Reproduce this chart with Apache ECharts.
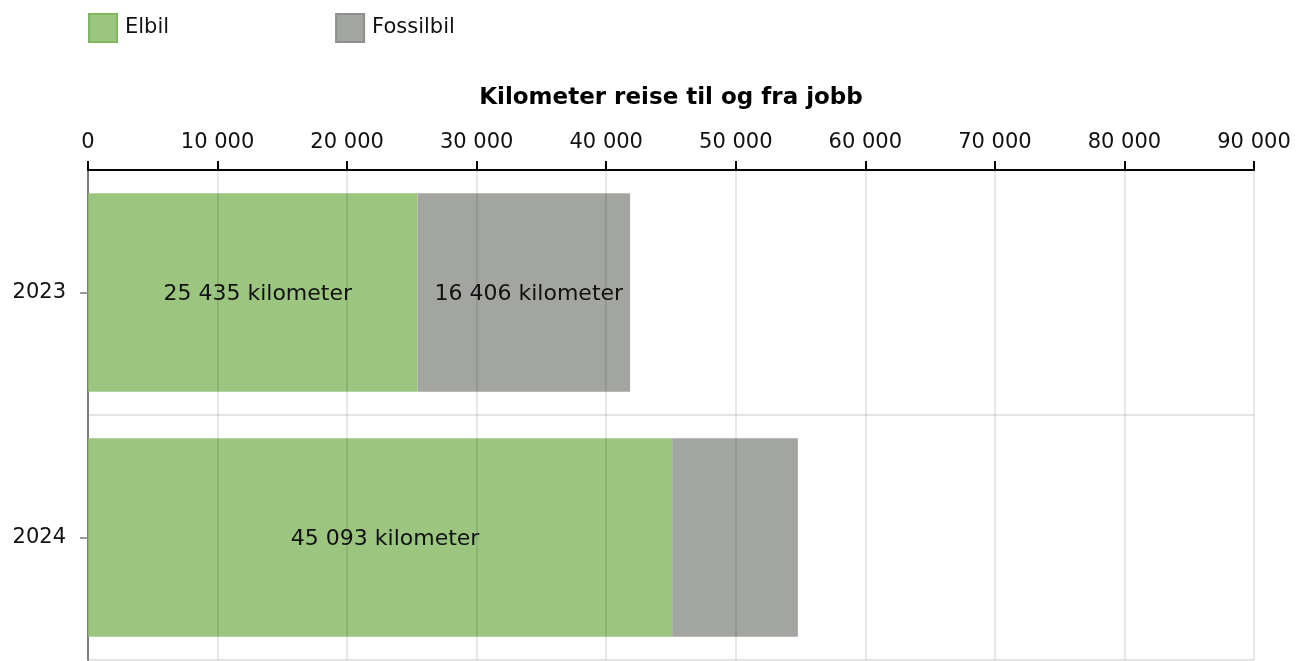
<!DOCTYPE html>
<html>
<head>
<meta charset="utf-8">
<script src="https://cdn.jsdelivr.net/npm/echarts@6/dist/echarts.min.js"></script>
<style>
  html, body { margin: 0; padding: 0; background: #fff; }
  #chart { width: 1309px; height: 661px; }
</style>
</head>
<body>
<div id="chart"></div>
<script>
var years = ['2023', '2024'];
var elbil = [25435, 45093];
var fossilbil = [16406, 9700];
var xTicks = [0, 10000, 20000, 30000, 40000, 50000, 60000, 70000, 80000, 90000];

// mellomrom som tusenskille
function fmt(v) {
  return String(v).replace(/\B(?=(\d{3})+(?!\d))/g, ' ');
}

var font = 'DejaVu Sans, Verdana, sans-serif';
var chart = echarts.init(document.getElementById('chart'));

chart.setOption({
  backgroundColor: '#fff',
  textStyle: { fontFamily: font },
  legend: {
    left: 88,
    top: 13,
    padding: 0,
    itemWidth: 28,
    itemHeight: 28,
    itemGap: 166,
    icon: 'rect',
    textStyle: { fontSize: 21, color: '#111', fontFamily: font, padding: [0, 0, 0, 3] },
    data: [
      { name: 'Elbil', itemStyle: { borderColor: '#7fb85e', borderWidth: 2 } },
      { name: 'Fossilbil', itemStyle: { borderColor: '#8e908b', borderWidth: 2 } }
    ]
  },
  grid: { left: 88, right: 55, top: 170, bottom: 1 },
  xAxis: {
    type: 'value',
    position: 'top',
    min: xTicks[0],
    max: xTicks[xTicks.length - 1],
    interval: 10000,
    z: 3,
    name: 'Kilometer reise til og fra jobb',
    nameLocation: 'middle',
    nameGap: 60,
    nameTextStyle: { fontSize: 23, fontWeight: 'bold', color: '#000', fontFamily: font },
    axisLine: { show: true, lineStyle: { color: '#000', width: 2 } },
    axisTick: { show: true, length: 9, lineStyle: { color: '#000', width: 2 } },
    axisLabel: { fontSize: 21, color: '#111', margin: 17, formatter: fmt, fontFamily: font },
    splitLine: { show: true, lineStyle: { color: 'rgba(0,0,0,0.09)', width: 2 } }
  },
  yAxis: {
    type: 'category',
    inverse: true,
    data: years,
    axisLine: { show: true, lineStyle: { color: '#888', width: 2 } },
    axisTick: { show: true, alignWithLabel: true, length: 8, lineStyle: { color: '#999', width: 2 } },
    axisLabel: { fontSize: 21, color: '#111', margin: 22, fontFamily: font },
    splitLine: { show: true, lineStyle: { color: '#e4e4e4', width: 2 } }
  },
  series: [
    {
      name: 'Elbil',
      type: 'bar',
      stack: 'km',
      barCategoryGap: '19%',
      data: elbil,
      itemStyle: { color: '#9cc580' },
      label: {
        show: true,
        position: 'inside',
        offset: [5, 2],
        fontSize: 22,
        color: '#111',
        fontFamily: font,
        formatter: function (p) { return fmt(p.value) + ' kilometer'; }
      }
    },
    {
      name: 'Fossilbil',
      type: 'bar',
      stack: 'km',
      data: fossilbil,
      itemStyle: { color: '#a3a5a0' },
      label: {
        show: true,
        position: 'inside',
        offset: [5, 2],
        fontSize: 22,
        color: '#111',
        fontFamily: font,
        // for smal stolpe -> ingen etikett
        formatter: function (p) { return p.value < 12000 ? '' : fmt(p.value) + ' kilometer'; }
      }
    }
  ]
});
</script>
</body>
</html>
